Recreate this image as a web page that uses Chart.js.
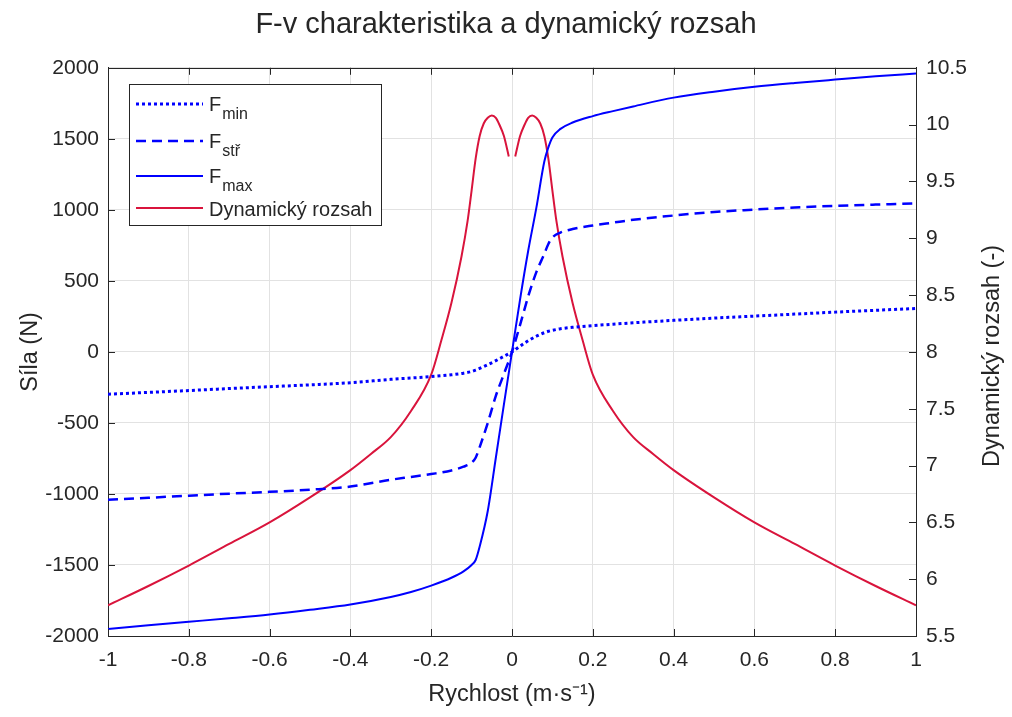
<!DOCTYPE html>
<html>
<head>
<meta charset="utf-8">
<title>F-v charakteristika</title>
<script src="https://cdn.jsdelivr.net/npm/chart.js@4.4.0/dist/chart.umd.min.js"></script>
<style>
  body { margin: 0; background: #fff; }
</style>
</head>
<body>
<canvas id="grafFv" width="1012" height="717"></canvas>
<script>
// rychlost (m/s) pro sily
const rychlost = [-1, -0.9, -0.8, -0.7, -0.6, -0.5, -0.4, -0.3, -0.25, -0.2, -0.15, -0.12, -0.1, -0.09, -0.08, -0.06, -0.04, -0.02, 0,
  0.02, 0.04, 0.06, 0.08, 0.09, 0.1, 0.12, 0.15, 0.2, 0.25, 0.3, 0.4, 0.5, 0.6, 0.7, 0.8, 0.9, 1];

const silaMin = [-298, -285, -272, -258, -245, -232, -217, -193, -184, -174, -161, -150, -138, -128, -116, -90, -62, -31, 0,
  40, 78, 110, 135, 145, 152, 163, 173, 185, 195, 205, 222, 238, 252, 266, 280, 293, 305];

const silaStr = [-1040, -1027, -1012, -998, -985, -970, -948, -900, -880, -860, -835, -808, -780, -745, -670, -500, -310, -155, 0,
  190, 390, 560, 690, 760, 805, 840, 865, 890, 910, 930, 960, 985, 1002, 1017, 1028, 1037, 1045];

const silaMax = [-1950, -1925, -1900, -1875, -1848, -1815, -1778, -1725, -1690, -1645, -1590, -1545, -1500, -1465, -1370, -1120, -745, -370, 0,
  370, 710, 1010, 1340, 1440, 1510, 1570, 1615, 1660, 1695, 1728, 1790, 1832, 1866, 1893, 1917, 1940, 1960];

// dynamicky rozsah (v nule neni definovany -> mezera)
const rychlostRozsah = [-1, -0.9, -0.8, -0.7, -0.6, -0.5, -0.4, -0.35, -0.3, -0.25, -0.2, -0.175, -0.15, -0.125, -0.11, -0.1, -0.09, -0.08, -0.07, -0.06, -0.05, -0.04, -0.03, -0.02, -0.008, 0,
  0.008, 0.02, 0.03, 0.04, 0.05, 0.06, 0.07, 0.08, 0.09, 0.1, 0.11, 0.125, 0.15, 0.175, 0.2, 0.25, 0.3, 0.35, 0.4, 0.5, 0.6, 0.7, 0.8, 0.9, 1];

const dynRozsah = [5.77, 5.94, 6.12, 6.31, 6.5, 6.72, 6.96, 7.1, 7.25, 7.48, 7.8, 8.1, 8.43, 8.84, 9.15, 9.42, 9.7, 9.9, 10.01, 10.06, 10.08, 10.06, 9.99, 9.9, 9.72, null,
  9.72, 9.9, 9.99, 10.06, 10.08, 10.06, 10.01, 9.9, 9.7, 9.42, 9.15, 8.84, 8.43, 8.1, 7.8, 7.48, 7.25, 7.1, 6.96, 6.72, 6.5, 6.31, 6.12, 5.94, 5.77];

// legenda (F + dolni index)
const legendaText = ['F', 'F', 'F', 'Dynamický rozsah'];
const legendaIndex = ['min', 'stř', 'max', ''];

const pismo = "'Liberation Sans', Arial, Helvetica, sans-serif";
const barvaOsy = '#262626';
const modra = '#0000FF';
const cervena = '#D9143C';

function body(xs, ys) {
    return xs.map((x, i) => ({ x: x, y: ys[i] }));
}

// ramecek, vnitrni ticky, pravy popisek a legenda
const doplnky = {
    id: 'doplnky',
    afterDraw(chart) {
        const ctx = chart.ctx;
        const a = chart.chartArea;
        const sx = chart.scales.x, sy = chart.scales.y, sy1 = chart.scales.y1;
        ctx.save();
        ctx.strokeStyle = barvaOsy;
        ctx.lineWidth = 1;
        ctx.beginPath();
        ctx.moveTo(a.left, Math.round(a.top) + 0.5);
        ctx.lineTo(a.right, Math.round(a.top) + 0.5);
        sx.ticks.forEach(t => {
            const px = Math.round(sx.getPixelForValue(t.value)) + 0.5;
            ctx.moveTo(px, a.bottom); ctx.lineTo(px, a.bottom - 7);
            ctx.moveTo(px, a.top); ctx.lineTo(px, a.top + 7);
        });
        sy.ticks.forEach(t => {
            const py = Math.round(sy.getPixelForValue(t.value)) + 0.5;
            ctx.moveTo(a.left, py); ctx.lineTo(a.left + 7, py);
        });
        sy1.ticks.forEach(t => {
            const py = Math.round(sy1.getPixelForValue(t.value)) + 0.5;
            ctx.moveTo(a.right, py); ctx.lineTo(a.right - 7, py);
        });
        ctx.stroke();

        // pravy popisek osy (cte se zdola nahoru)
        ctx.save();
        ctx.translate(993, (a.top + a.bottom) / 2 + 4);
        ctx.rotate(-Math.PI / 2);
        ctx.fillStyle = barvaOsy;
        ctx.font = '23.5px ' + pismo;
        ctx.textAlign = 'center';
        ctx.textBaseline = 'middle';
        ctx.fillText('Dynamický rozsah (-)', 0, 0);
        ctx.restore();

        // legenda
        const bx = 129.5, by = 84.5, bw = 252, bh = 141;
        ctx.fillStyle = '#fff';
        ctx.fillRect(bx, by, bw, bh);
        ctx.strokeStyle = barvaOsy;
        ctx.lineWidth = 1;
        ctx.strokeRect(bx, by, bw, bh);
        const radky = [104, 141, 176, 208];
        chart.data.datasets.forEach((ds, i) => {
            const ly = radky[i];
            ctx.save();
            ctx.strokeStyle = ds.borderColor;
            ctx.lineWidth = ds.borderWidth;
            ctx.setLineDash(ds.borderDash || []);
            ctx.beginPath();
            ctx.moveTo(136, ly);
            ctx.lineTo(203, ly);
            ctx.stroke();
            ctx.restore();
            ctx.fillStyle = barvaOsy;
            ctx.textAlign = 'left';
            ctx.textBaseline = 'alphabetic';
            ctx.font = '20px ' + pismo;
            if (legendaIndex[i]) {
                ctx.fillText(legendaText[i], 209, ly + 6.5);
                const w = ctx.measureText(legendaText[i]).width;
                ctx.font = '16px ' + pismo;
                ctx.fillText(legendaIndex[i], 209 + w + 1, ly + 15);
            } else {
                ctx.fillText(legendaText[i], 209, ly + 8);
            }
        });
        ctx.restore();
    }
};

const ctx = document.getElementById('grafFv').getContext('2d');
new Chart(ctx, {
    type: 'line',
    data: {
        datasets: [{
            label: 'Fmin',
            data: body(rychlost, silaMin),
            yAxisID: 'y',
            borderColor: modra,
            borderWidth: 3,
            borderDash: [3, 3],
            pointRadius: 0,
            cubicInterpolationMode: 'monotone'
        }, {
            label: 'Fstř',
            data: body(rychlost, silaStr),
            yAxisID: 'y',
            borderColor: modra,
            borderWidth: 2.5,
            borderDash: [10, 6],
            pointRadius: 0,
            cubicInterpolationMode: 'monotone'
        }, {
            label: 'Fmax',
            data: body(rychlost, silaMax),
            yAxisID: 'y',
            borderColor: modra,
            borderWidth: 2,
            pointRadius: 0,
            cubicInterpolationMode: 'monotone'
        }, {
            label: 'Dynamický rozsah',
            data: body(rychlostRozsah, dynRozsah),
            yAxisID: 'y1',
            borderColor: cervena,
            borderWidth: 2,
            pointRadius: 0,
            spanGaps: false,
            cubicInterpolationMode: 'monotone'
        }]
    },
    options: {
        responsive: false,
        animation: false,
        layout: { padding: 0 },
        plugins: {
            legend: { display: false },
            tooltip: { enabled: false },
            title: {
                display: true,
                text: 'F-v charakteristika a dynamický rozsah',
                color: barvaOsy,
                font: { family: pismo, size: 29, weight: 'normal' },
                padding: { top: 8, bottom: 25 }
            }
        },
        scales: {
            x: {
                type: 'linear',
                min: -1,
                max: 1,
                afterFit: s => { s.height = 81; },
                border: { color: barvaOsy, width: 1 },
                grid: { color: '#e2e2e2', drawTicks: false },
                ticks: {
                    stepSize: 0.2,
                    padding: 12,
                    color: barvaOsy,
                    font: { family: pismo, size: 21 },
                    callback: v => String(Math.round(v * 10) / 10)
                },
                title: {
                    display: true,
                    text: 'Rychlost (m·s⁻¹)',
                    color: barvaOsy,
                    font: { family: pismo, size: 23.5 },
                    padding: { top: 0, bottom: 8 }
                }
            },
            y: {
                position: 'left',
                min: -2000,
                max: 2000,
                afterFit: s => { s.width = 108; },
                border: { color: barvaOsy, width: 1 },
                grid: { color: '#e2e2e2', drawTicks: false },
                ticks: {
                    stepSize: 500,
                    padding: 9,
                    color: barvaOsy,
                    font: { family: pismo, size: 21 },
                    callback: v => String(v)
                },
                title: {
                    display: true,
                    text: 'Síla (N)',
                    color: barvaOsy,
                    font: { family: pismo, size: 23.5 },
                    padding: { top: 16, bottom: 0 }
                }
            },
            y1: {
                position: 'right',
                min: 5.5,
                max: 10.5,
                afterFit: s => { s.width = 96; },
                border: { color: barvaOsy, width: 1 },
                grid: { display: false, drawTicks: false },
                ticks: {
                    stepSize: 0.5,
                    padding: 10,
                    color: barvaOsy,
                    font: { family: pismo, size: 21 },
                    callback: v => String(Math.round(v * 10) / 10)
                }
            }
        }
    },
    plugins: [doplnky]
});
</script>
</body>
</html>
